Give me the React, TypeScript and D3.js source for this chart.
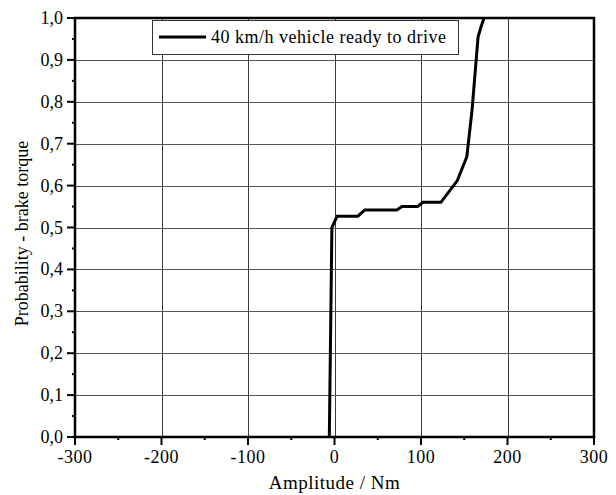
import React, { useEffect, useRef } from 'react';
import * as d3 from 'd3';

// amplitude (Nm) vs cumulative probability
const amplitude = [-6, -3, 3, 27, 35, 72, 78, 96, 102, 123, 142, 153, 159, 166, 170, 173];
const probability = [0, 0.5, 0.527, 0.527, 0.542, 0.542, 0.55, 0.55, 0.56, 0.56, 0.612, 0.669, 0.78, 0.955, 0.983, 1.0];
const xTicks = [-300, -200, -100, 0, 100, 200, 300];
const yTicks = [0, 0.1, 0.2, 0.3, 0.4, 0.5, 0.6, 0.7, 0.8, 0.9, 1.0];
const seriesLabel = '40 km/h vehicle ready to drive';

const App: React.FC = () => {
  const ref = useRef<SVGSVGElement>(null);

  useEffect(() => {
    if (!ref.current) return;
    const width = 616;
    const height = 495;
    const m = { left: 75, right: 22, top: 18, bottom: 58 };
    const font = '"Liberation Serif", "Times New Roman", serif';

    const svg = d3.select(ref.current)
      .attr('width', width)
      .attr('height', height);
    svg.selectAll('*').remove();

    const x = d3.scaleLinear().domain([-300, 300]).range([m.left, width - m.right]);
    const y = d3.scaleLinear().domain([0, 1]).range([height - m.bottom, m.top]);
    const x0 = x(-300), x1 = x(300), y0 = y(0), y1 = y(1);

    // grid
    const grid = svg.append('g').attr('stroke', '#3a3a3a').attr('stroke-width', 1);
    grid.selectAll('.gx')
      .data(xTicks.slice(1, -1))
      .enter().append('line')
      .attr('x1', d => Math.round(x(d)) + 0.5).attr('x2', d => Math.round(x(d)) + 0.5)
      .attr('y1', y0).attr('y2', y1);
    grid.selectAll('.gy')
      .data(yTicks.slice(1, -1))
      .enter().append('line')
      .attr('y1', d => Math.round(y(d)) + 0.5).attr('y2', d => Math.round(y(d)) + 0.5)
      .attr('x1', x0).attr('x2', x1)
      .attr('stroke', '#555');

    // curve
    const line = d3.line<number>()
      .x((_, i) => x(amplitude[i]))
      .y(d => y(d));
    svg.append('path')
      .datum(probability)
      .attr('d', line)
      .attr('fill', 'none')
      .attr('stroke', '#000')
      .attr('stroke-width', 3)
      .attr('stroke-linejoin', 'miter');

    // frame
    svg.append('rect')
      .attr('x', x0).attr('y', y1)
      .attr('width', x1 - x0).attr('height', y0 - y1)
      .attr('fill', 'none')
      .attr('stroke', '#000')
      .attr('stroke-width', 2.5);

    // ticks
    const ticks = svg.append('g').attr('stroke', '#000').attr('stroke-width', 2);
    ticks.selectAll('.xt')
      .data(d3.range(-300, 301, 50))
      .enter().append('line')
      .attr('x1', d => x(d)).attr('x2', d => x(d))
      .attr('y1', y0).attr('y2', d => y0 + (d % 100 === 0 ? 8 : 3));
    ticks.selectAll('.yt')
      .data(d3.range(0, 21).map(i => i / 20))
      .enter().append('line')
      .attr('y1', d => y(d)).attr('y2', d => y(d))
      .attr('x1', x0).attr('x2', (_, i) => x0 - (i % 2 === 0 ? 8 : 3));

    // tick labels
    svg.append('g')
      .selectAll('text')
      .data(xTicks)
      .enter().append('text')
      .attr('x', d => x(d))
      .attr('y', y0 + 26)
      .attr('text-anchor', 'middle')
      .style('font-family', font)
      .style('font-size', '18px')
      .style('letter-spacing', '0.5px')
      .text(d => String(d));
    svg.append('g')
      .selectAll('text')
      .data(yTicks)
      .enter().append('text')
      .attr('x', x0 - 12)
      .attr('y', d => y(d) + 6)
      .attr('text-anchor', 'end')
      .style('font-family', font)
      .style('font-size', '18px')
      .text(d => d.toFixed(1).replace('.', ','));

    // axis titles
    svg.append('text')
      .attr('x', (x0 + x1) / 2)
      .attr('y', height - 6)
      .attr('text-anchor', 'middle')
      .style('font-family', font)
      .style('font-size', '19px')
      .style('letter-spacing', '0.5px')
      .text('Amplitude / Nm');
    svg.append('text')
      .attr('transform', `translate(28,${(y0 + y1) / 2 + 6}) rotate(-90)`)
      .attr('text-anchor', 'middle')
      .style('font-family', font)
      .style('font-size', '18px')
      .text('Probability - brake torque');

    // legend
    const lg = svg.append('g');
    lg.append('rect')
      .attr('x', 152.5).attr('y', 20.5)
      .attr('width', 306).attr('height', 34)
      .attr('fill', '#fff')
      .attr('stroke', '#333')
      .attr('stroke-width', 1);
    lg.append('line')
      .attr('x1', 159).attr('x2', 206)
      .attr('y1', 37).attr('y2', 37)
      .attr('stroke', '#000')
      .attr('stroke-width', 3);
    lg.append('text')
      .attr('x', 211)
      .attr('y', 43)
      .style('font-family', font)
      .style('font-size', '18px')
      .style('letter-spacing', '0.5px')
      .text(seriesLabel);
  }, []);

  return <svg ref={ref} style={{ position: 'absolute', left: 0, top: 0, background: '#fff' }} />;
};

export default App;
